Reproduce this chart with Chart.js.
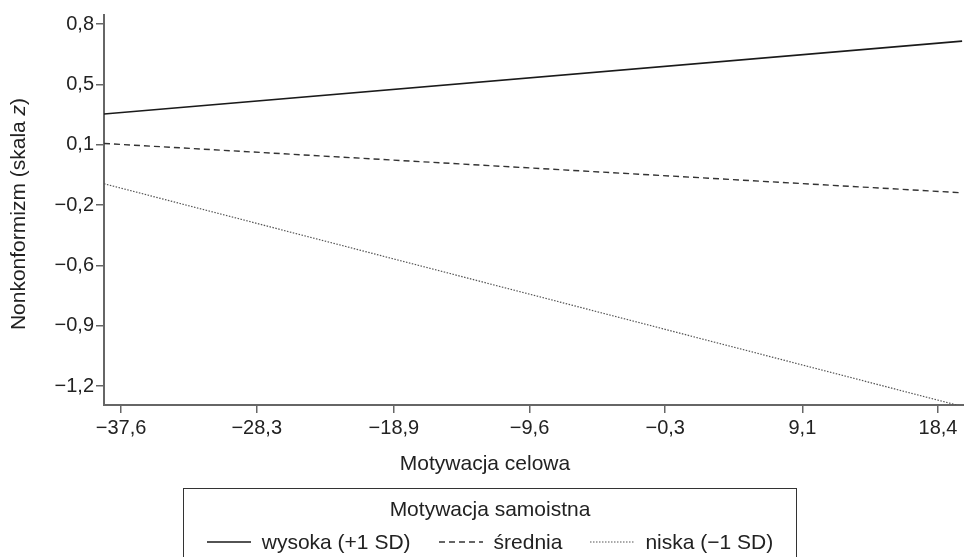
<!DOCTYPE html>
<html lang="pl">
<head>
<meta charset="utf-8">
<title>Nonkonformizm a motywacja</title>
<script src="https://cdn.jsdelivr.net/npm/chart.js@4.4.1/dist/chart.umd.min.js"></script>
<style>
    html, body { margin: 0; padding: 0; background: #fff; }
    #wrap {
        position: relative;
        width: 964px;
        height: 557px;
        overflow: hidden;
        font-family: 'Liberation Sans', Arial, sans-serif;
        color: #222;
    }
    #wykres { position: absolute; left: 0; top: 0; }
    #legenda {
        position: absolute;
        left: 183px;
        top: 488px;
        width: 614px;
        height: 100px;
        box-sizing: border-box;
        border: 1.5px solid #333;
        border-bottom: none;
        font-size: 21px;
        line-height: 24px;
        padding-top: 8px;
    }
    #legenda .tytul { text-align: center; }
    #legenda .wiersz {
        display: flex;
        justify-content: center;
        align-items: center;
        margin-top: 9px;
    }
    #legenda .poz { display: flex; align-items: center; margin: 0 14px; }
    #legenda svg { margin-right: 11px; }
</style>
</head>
<body>
<div id="wrap">
    <canvas id="wykres" width="964" height="557"></canvas>
    <div id="legenda"></div>
</div>
<script>
// dane
const motywacjaCelowa = [-38.77, 20.05];
const wysoka = [0.293, 0.704];
const srednia = [0.127, -0.151];
const niska = [-0.100, -1.355];

const serie = ['wysoka (+1 SD)', 'średnia', 'niska (\u22121 SD)'];
const tytulLegendy = 'Motywacja samoistna';
const tytulX = 'Motywacja celowa';
const tytulY = ['Nonkonformizm (skala ', 'z', ')'];

const xTicks = [-37.6, -28.3, -18.9, -9.6, -0.3, 9.1, 18.4];
const yTicks = [0.8, 0.46, 0.12, -0.22, -0.56, -0.9, -1.24];

const xMin = -38.77, xMax = 20.18;
const yMin = -1.347, yMax = 0.851;

const FONT = "'Liberation Sans', Arial, sans-serif";
Chart.defaults.font.family = FONT;
Chart.defaults.color = '#222';

function formatuj(v) {
    return v.toFixed(1).replace('.', ',').replace('-', '\u2212');
}

function punkty(ys) {
    return motywacjaCelowa.map((x, i) => ({ x: x, y: ys[i] }));
}

const style = [
    { borderColor: '#1a1a1a', borderWidth: 1.6, borderDash: [] },
    { borderColor: '#333', borderWidth: 1.4, borderDash: [6, 4] },
    { borderColor: '#555', borderWidth: 1.2, borderDash: [1.5, 1.5] }
];

const tytulyOsi = {
    id: 'tytulyOsi',
    afterDraw(chart) {
        const ctx = chart.ctx;
        ctx.save();
        ctx.fillStyle = '#222';
        ctx.textBaseline = 'alphabetic';
        ctx.font = '21px ' + FONT;
        ctx.textAlign = 'center';
        ctx.fillText(tytulX, 485, 470);

        // tytuł osi Y z kursywą
        ctx.translate(25, 214);
        ctx.rotate(-Math.PI / 2);
        ctx.textAlign = 'left';
        const fonty = ['21px ' + FONT, 'italic 21px ' + FONT, '21px ' + FONT];
        let szer = 0;
        tytulY.forEach((t, i) => { ctx.font = fonty[i]; szer += ctx.measureText(t).width; });
        let x = -szer / 2;
        tytulY.forEach((t, i) => {
            ctx.font = fonty[i];
            ctx.fillText(t, x, 0);
            x += ctx.measureText(t).width;
        });
        ctx.restore();
    }
};

const chart = new Chart(document.getElementById('wykres'), {
    type: 'line',
    data: {
        datasets: [wysoka, srednia, niska].map((ys, i) => ({
            label: serie[i],
            data: punkty(ys),
            borderColor: style[i].borderColor,
            borderWidth: style[i].borderWidth,
            borderDash: style[i].borderDash,
            pointRadius: 0,
            tension: 0,
            fill: false
        }))
    },
    options: {
        responsive: false,
        animation: false,
        layout: { padding: { top: 15, right: 0, left: 0, bottom: 0 } },
        plugins: {
            legend: { display: false },
            tooltip: { enabled: false }
        },
        scales: {
            x: {
                type: 'linear',
                min: xMin,
                max: xMax,
                afterBuildTicks: s => { s.ticks = xTicks.map(v => ({ value: v })); },
                afterFit: s => { s.height = 152; },
                ticks: {
                    callback: (v, i) => formatuj(xTicks[i]),
                    padding: 3,
                    color: '#222',
                    font: { size: 20 },
                    maxRotation: 0,
                    autoSkip: false
                },
                grid: { drawOnChartArea: false, drawTicks: true, tickLength: 8, color: '#666', lineWidth: 1.5 },
                border: { color: '#666', width: 2 }
            },
            y: {
                type: 'linear',
                min: yMin,
                max: yMax,
                afterBuildTicks: s => { s.ticks = yTicks.map(v => ({ value: v })); },
                afterFit: s => { s.width = 104; },
                ticks: {
                    callback: (v, i) => formatuj(yTicks[i]),
                    padding: 2,
                    color: '#222',
                    font: { size: 20 },
                    autoSkip: false
                },
                grid: { drawOnChartArea: false, drawTicks: true, tickLength: 8, color: '#666', lineWidth: 1.5 },
                border: { color: '#666', width: 2 }
            }
        }
    },
    plugins: [tytulyOsi]
});

// legenda HTML z ustawień serii
function zbudujLegende() {
    const el = document.getElementById('legenda');
    let html = '<div class="tytul">' + tytulLegendy + '</div><div class="wiersz">';
    chart.data.datasets.forEach(ds => {
        const dash = ds.borderDash.length ? ' stroke-dasharray="' + ds.borderDash.join(' ') + '"' : '';
        html += '<span class="poz"><svg width="44" height="10"><line x1="0" y1="5" x2="44" y2="5" stroke="' +
            ds.borderColor + '" stroke-width="' + ds.borderWidth + '"' + dash + '/></svg>' + ds.label + '</span>';
    });
    html += '</div>';
    el.innerHTML = html;
}
zbudujLegende();
</script>
</body>
</html>
